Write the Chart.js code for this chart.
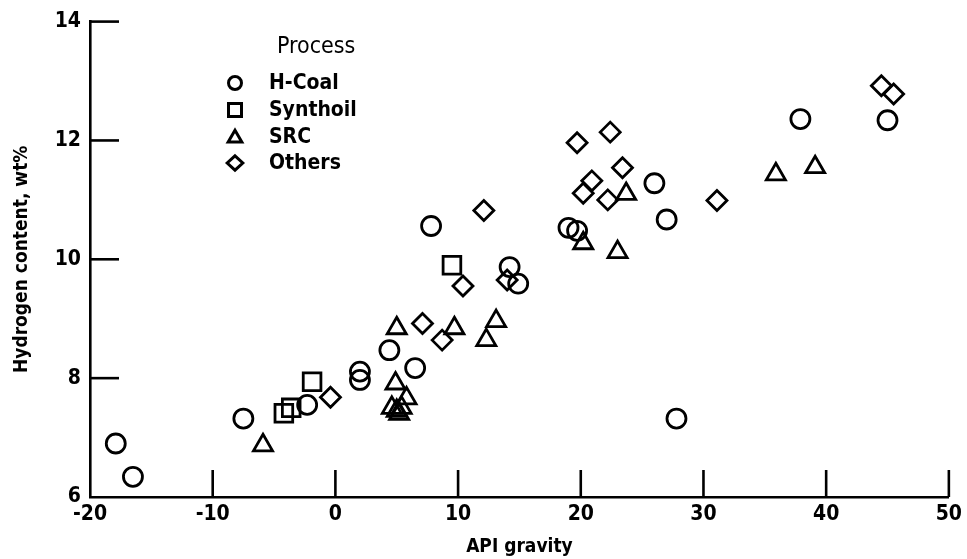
<!DOCTYPE html>
<html>
<head>
<meta charset="utf-8">
<script src="https://cdn.jsdelivr.net/npm/chart.js@4/dist/chart.umd.min.js"></script>
<style>
    html, body { margin: 0; padding: 0; background: #fff; }
    #wrap { width: 967px; height: 559px; }
</style>
</head>
<body>
<div id="wrap"><canvas id="chart" width="967" height="559"></canvas></div>
<script>
const FONT = '"DejaVu Sans Condensed", "Liberation Sans Narrow", "DejaVu Sans", sans-serif';

// API gravity (x) and hydrogen content, wt% (y) per process
const hcoalX = [-17.9, -16.5, -7.5, -2.3, 2.0, 2.0, 4.4, 6.5, 7.8, 14.2, 14.9, 19.0, 19.7, 26.0, 27.0, 27.8, 37.9, 45.0];
const hcoalY = [6.90, 6.34, 7.32, 7.55, 8.11, 7.97, 8.47, 8.17, 10.56, 9.87, 9.59, 10.53, 10.48, 11.28, 10.67, 7.32, 12.36, 12.34];

const synthoilX = [-4.2, -3.6, -1.9, 9.5];
const synthoilY = [7.41, 7.50, 7.94, 9.90];

const srcX = [-5.9, 5.0, 4.9, 5.8, 4.6, 5.0, 5.4, 5.2, 9.7, 13.1, 12.3, 20.2, 23.0, 23.7, 35.9, 39.1];
const srcY = [6.87, 8.84, 7.91, 7.66, 7.50, 7.45, 7.50, 7.40, 8.84, 8.96, 8.64, 10.27, 10.12, 11.10, 11.43, 11.55];

const othersX = [-0.4, 7.1, 8.7, 10.4, 12.1, 14.0, 19.7, 22.4, 23.4, 20.9, 20.2, 22.2, 31.1, 44.5, 45.5];
const othersY = [7.68, 8.92, 8.64, 9.55, 10.82, 9.65, 11.96, 12.14, 11.54, 11.32, 11.11, 11.00, 10.99, 12.92, 12.78];

const xTicks = [-20, -10, 0, 10, 20, 30, 40, 50];
const yTicks = [6, 8, 10, 12, 14];

const legendNames = ['H-Coal', 'Synthoil', 'SRC', 'Others'];

function toPoints(xs, ys) {
    return xs.map((x, i) => ({ x: x, y: ys[i] }));
}

function series(label, xs, ys, style, radius) {
    return {
        label: label,
        data: toPoints(xs, ys),
        pointStyle: style,
        pointRadius: radius,
        pointHoverRadius: radius,
        pointBorderWidth: 2.8,
        borderColor: '#000',
        backgroundColor: 'rgba(0,0,0,0)',
        showLine: false
    };
}

// inward tick marks like the original figure
const inwardTicks = {
    id: 'inwardTicks',
    afterDraw(chart) {
        const ctx = chart.ctx;
        const xs = chart.scales.x;
        const ys = chart.scales.y;
        ctx.save();
        ctx.strokeStyle = '#000';
        ctx.lineWidth = 2.6;
        xTicks.slice(1).forEach(v => {
            const px = xs.getPixelForValue(v);
            ctx.beginPath();
            ctx.moveTo(px, ys.bottom);
            ctx.lineTo(px, ys.bottom - 27);
            ctx.stroke();
        });
        yTicks.slice(1).forEach(v => {
            const py = ys.getPixelForValue(v);
            ctx.beginPath();
            ctx.moveTo(xs.left, py);
            ctx.lineTo(xs.left + 29, py);
            ctx.stroke();
        });
        ctx.restore();
    }
};

function drawSymbol(ctx, style, x, y, r) {
    ctx.beginPath();
    if (style === 'circle') {
        ctx.arc(x, y, r, 0, Math.PI * 2);
    } else if (style === 'rect') {
        ctx.rect(x - r, y - r, 2 * r, 2 * r);
    } else if (style === 'triangle') {
        ctx.moveTo(x, y - r * 1.05);
        ctx.lineTo(x + r * 1.05, y + r * 0.75);
        ctx.lineTo(x - r * 1.05, y + r * 0.75);
        ctx.closePath();
    } else {
        ctx.moveTo(x, y - r * 1.1);
        ctx.lineTo(x + r * 1.2, y);
        ctx.lineTo(x, y + r * 1.1);
        ctx.lineTo(x - r * 1.2, y);
        ctx.closePath();
    }
    ctx.stroke();
}

// legend block in the upper left of the plot
const processLegend = {
    id: 'processLegend',
    afterDraw(chart) {
        const ctx = chart.ctx;
        const styles = ['circle', 'rect', 'triangle', 'rectRot'];
        const rows = [83, 110, 137, 163];
        ctx.save();
        ctx.fillStyle = '#000';
        ctx.strokeStyle = '#000';
        ctx.lineWidth = 3;
        ctx.textBaseline = 'middle';
        ctx.font = '23px ' + FONT;
        ctx.fillText('Process', 277, 47);
        ctx.font = 'bold 21px ' + FONT;
        legendNames.forEach((name, i) => {
            drawSymbol(ctx, styles[i], 235, rows[i], 6.5);
            ctx.fillText(name, 269, rows[i] + 1);
        });
        ctx.restore();
    }
};

const chart = new Chart(document.getElementById('chart'), {
    type: 'scatter',
    data: {
        datasets: [
            series('H-Coal', hcoalX, hcoalY, 'circle', 9.5),
            series('Synthoil', synthoilX, synthoilY, 'rect', 12.5),
            series('SRC', srcX, srcY, 'triangle', 11),
            series('Others', othersX, othersY, 'rectRot', 10)
        ]
    },
    options: {
        responsive: false,
        animation: false,
        layout: { padding: { top: 21, right: 16, left: 0, bottom: 0 } },
        plugins: {
            legend: { display: false },
            tooltip: { enabled: false }
        },
        scales: {
            x: {
                type: 'linear',
                min: -20,
                max: 50,
                afterBuildTicks: s => { s.ticks = xTicks.map(v => ({ value: v })); },
                afterFit: s => { s.height = 62; },
                grid: { display: false, drawTicks: false },
                border: { display: true, color: '#000', width: 2.6 },
                ticks: { color: '#000', padding: 5, font: { family: FONT, size: 21, weight: 'bold' } },
                title: {
                    display: true,
                    text: 'API gravity',
                    color: '#000',
                    padding: { top: 0, bottom: 1 },
                    font: { family: FONT, size: 19, weight: 'bold' }
                }
            },
            y: {
                type: 'linear',
                min: 6,
                max: 14,
                afterBuildTicks: s => { s.ticks = yTicks.map(v => ({ value: v })); },
                afterFit: s => { s.width = 90; },
                grid: { display: false, drawTicks: false },
                border: { display: true, color: '#000', width: 2.6 },
                ticks: { color: '#000', padding: 9, font: { family: FONT, size: 21, weight: 'bold' } },
                title: {
                    display: true,
                    text: 'Hydrogen content, wt%',
                    color: '#000',
                    padding: { top: 11, bottom: 0 },
                    font: { family: FONT, size: 19, weight: 'bold' }
                }
            }
        }
    },
    plugins: [inwardTicks, processLegend]
});
</script>
</body>
</html>
